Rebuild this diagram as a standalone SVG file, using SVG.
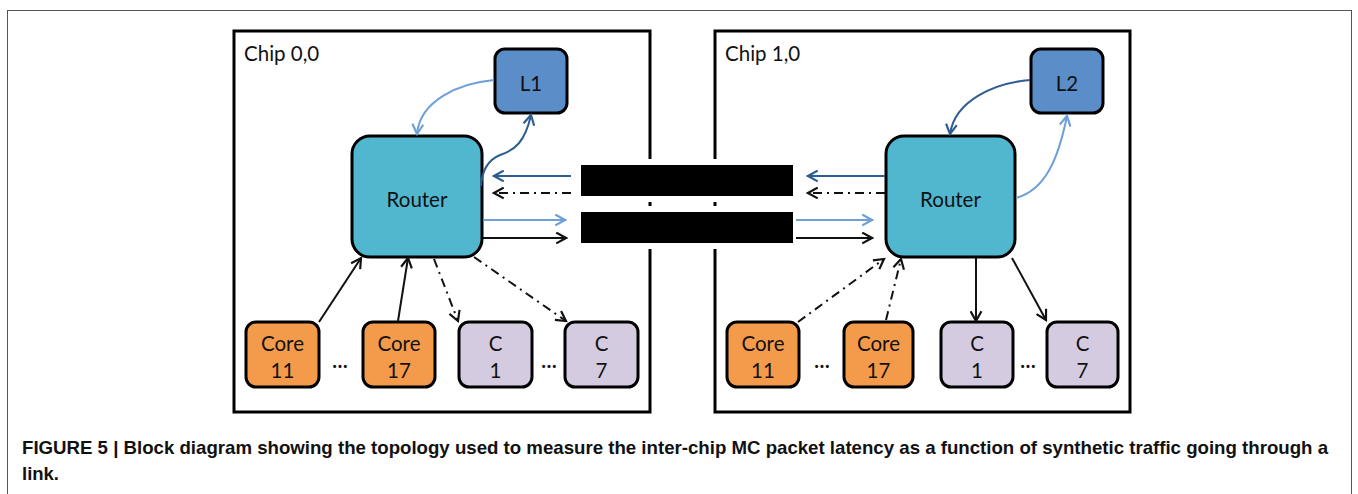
<svg xmlns="http://www.w3.org/2000/svg" width="1358" height="494" viewBox="0 0 1358 494">
<style>
.chip{fill:#fff;stroke:#000;stroke-width:3}
.lbl{font-family:Lato,"Open Sans",sans-serif;font-size:20.5px;fill:#111}
.router{fill:#50b7cf;stroke:#000;stroke-width:3}
.l{fill:#5b8dc8;stroke:#000;stroke-width:3}
.core{fill:#f39b4b;stroke:#000;stroke-width:3}
.c{fill:#d4cbe0;stroke:#000;stroke-width:3}
.bar{fill:#000;stroke:#fff;stroke-width:6}
.k{fill:none;stroke:#111;stroke-width:2}
.db{fill:none;stroke:#2e5d92;stroke-width:2}
.lb{fill:none;stroke:#6e9fd6;stroke-width:2}
.dd{stroke-dasharray:9 5 2 5}
.dots{font-family:Lato,"Open Sans",sans-serif;font-size:20px;font-weight:bold;fill:#111}
.cap{font-family:"Liberation Sans",Arial,sans-serif;font-weight:bold;font-size:18.5px;fill:#111}
</style>
<defs>
<marker id="ak" viewBox="0 0 12 12" refX="10" refY="6" markerWidth="13" markerHeight="13" markerUnits="userSpaceOnUse" orient="auto"><path d="M1,1 L10,6 L1,11" fill="none" stroke="#111" stroke-width="2"/></marker>
<marker id="adb" viewBox="0 0 12 12" refX="10" refY="6" markerWidth="13" markerHeight="13" markerUnits="userSpaceOnUse" orient="auto"><path d="M1,1 L10,6 L1,11" fill="none" stroke="#2e5d92" stroke-width="2"/></marker>
<marker id="alb" viewBox="0 0 12 12" refX="10" refY="6" markerWidth="13" markerHeight="13" markerUnits="userSpaceOnUse" orient="auto"><path d="M1,1 L10,6 L1,11" fill="none" stroke="#6e9fd6" stroke-width="2"/></marker>
</defs>
<rect x="0" y="0" width="1358" height="494" fill="#fff"/>
<rect x="7.5" y="10.5" width="1344" height="500" fill="none" stroke="#555" stroke-width="1"/>

<g id="chip00"><rect class="chip" x="234" y="31" width="416" height="381"/><text class="lbl" x="244" y="61">Chip 0,0</text></g>
<g id="chip10"><rect class="chip" x="715" y="31" width="415" height="381"/><text class="lbl" x="725" y="61">Chip 1,0</text></g>

<g id="links">
<rect class="bar" x="578" y="162" width="218" height="37"/>
<rect class="bar" x="578" y="209" width="218" height="37"/>
</g>

<g id="router0"><rect class="router" x="352" y="136" width="130" height="121" rx="18"/><text class="lbl" x="417" y="207" text-anchor="middle">Router</text></g>
<g id="L1"><rect class="l" x="495" y="49" width="72" height="64" rx="10"/><text class="lbl" x="531" y="91" text-anchor="middle">L1</text></g>
<g id="core11a"><rect class="core" x="246" y="322" width="73" height="65" rx="10"/><text class="lbl" x="282.5" y="351" text-anchor="middle">Core</text><text class="lbl" x="282.5" y="378" text-anchor="middle">11</text></g>
<g id="core17a"><rect class="core" x="363" y="322" width="72" height="65" rx="10"/><text class="lbl" x="399" y="351" text-anchor="middle">Core</text><text class="lbl" x="399" y="378" text-anchor="middle">17</text></g>
<g id="c1a"><rect class="c" x="459" y="322" width="73" height="65" rx="10"/><text class="lbl" x="495.5" y="351" text-anchor="middle">C</text><text class="lbl" x="495.5" y="378" text-anchor="middle">1</text></g>
<g id="c7a"><rect class="c" x="565" y="322" width="73" height="65" rx="10"/><text class="lbl" x="601.5" y="351" text-anchor="middle">C</text><text class="lbl" x="601.5" y="378" text-anchor="middle">7</text></g>
<g id="dots0"><text class="dots" x="340" y="368" text-anchor="middle">…</text><text class="dots" x="549" y="368" text-anchor="middle">…</text></g>

<g id="router1"><rect class="router" x="886" y="136" width="129" height="121" rx="18"/><text class="lbl" x="950.5" y="207" text-anchor="middle">Router</text></g>
<g id="L2"><rect class="l" x="1031" y="49" width="72" height="64" rx="10"/><text class="lbl" x="1067" y="91" text-anchor="middle">L2</text></g>
<g id="core11b"><rect class="core" x="727" y="322" width="72" height="65" rx="10"/><text class="lbl" x="763" y="351" text-anchor="middle">Core</text><text class="lbl" x="763" y="378" text-anchor="middle">11</text></g>
<g id="core17b"><rect class="core" x="844" y="322" width="69" height="65" rx="10"/><text class="lbl" x="878.5" y="351" text-anchor="middle">Core</text><text class="lbl" x="878.5" y="378" text-anchor="middle">17</text></g>
<g id="c1b"><rect class="c" x="941" y="322" width="72" height="65" rx="10"/><text class="lbl" x="977" y="351" text-anchor="middle">C</text><text class="lbl" x="977" y="378" text-anchor="middle">1</text></g>
<g id="c7b"><rect class="c" x="1047" y="322" width="71" height="65" rx="10"/><text class="lbl" x="1082.5" y="351" text-anchor="middle">C</text><text class="lbl" x="1082.5" y="378" text-anchor="middle">7</text></g>
<g id="dots1"><text class="dots" x="822" y="368" text-anchor="middle">…</text><text class="dots" x="1028" y="368" text-anchor="middle">…</text></g>

<g id="connectors">
<path class="lb" d="M494,80 C460,83 420,100 417,134" marker-end="url(#alb)"/>
<path class="db" d="M481,186 C482,170 488,160 500,155 C515,150 525,142 531,115" marker-end="url(#adb)"/>
<path class="db" d="M571,176 L494,176" marker-end="url(#adb)"/>
<path class="k dd" d="M571,193 L494,193" marker-end="url(#ak)"/>
<path class="lb" d="M483,220 L565,220" marker-end="url(#alb)"/>
<path class="k" d="M483,238 L566,238" marker-end="url(#ak)"/>
<path class="k" d="M319,322 L361,258" marker-end="url(#ak)"/>
<path class="k" d="M398,321 L408,258" marker-end="url(#ak)"/>
<path class="k dd" d="M434,259 L458,321" marker-end="url(#ak)"/>
<path class="k dd" d="M474,257 L566,321" marker-end="url(#ak)"/>

<path class="db" d="M1030,80 C995,83 955,100 950,134" marker-end="url(#adb)"/>
<path class="lb" d="M1016,198 C1045,190 1058,160 1067,116" marker-end="url(#alb)"/>
<path class="db" d="M885,176 L808,176" marker-end="url(#adb)"/>
<path class="k dd" d="M885,193 L808,193" marker-end="url(#ak)"/>
<path class="lb" d="M796,220 L872,220" marker-end="url(#alb)"/>
<path class="k" d="M796,238 L872,238" marker-end="url(#ak)"/>
<path class="k dd" d="M798,322 L884,259" marker-end="url(#ak)"/>
<path class="k dd" d="M886,320 L901,259" marker-end="url(#ak)"/>
<path class="k" d="M976,258 L976,321" marker-end="url(#ak)"/>
<path class="k" d="M1012,258 L1046,320" marker-end="url(#ak)"/>
</g>

<g id="caption">
<text class="cap" x="22" y="454" textLength="1306" lengthAdjust="spacingAndGlyphs">FIGURE 5 | Block diagram showing the topology used to measure the inter-chip MC packet latency as a function of synthetic traffic going through a</text>
<text class="cap" x="22" y="480">link.</text>
</g>
</svg>
